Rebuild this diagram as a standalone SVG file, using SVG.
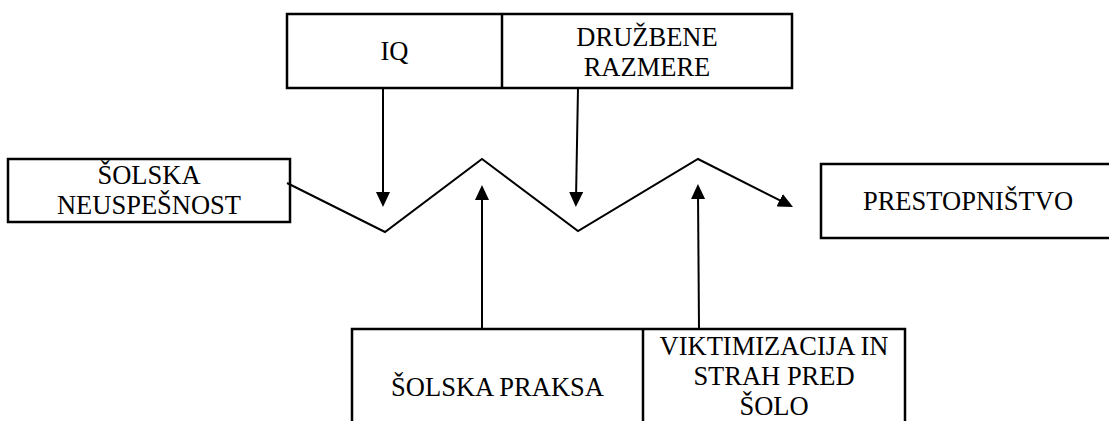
<svg xmlns="http://www.w3.org/2000/svg" width="1109" height="421" viewBox="0 0 1109 421">
<style>
.box{fill:#fff;stroke:#000;stroke-width:2.5}
.div{stroke:#000;stroke-width:2.5}
.t{font-family:"Liberation Serif","Times New Roman","DejaVu Serif",serif;font-size:26.5px;fill:#000;text-anchor:middle}
.con{fill:none;stroke:#000;stroke-width:2;stroke-linejoin:miter}
</style>
<defs>
<marker id="ah" viewBox="0 0 15 14" refX="7" refY="7" markerWidth="15" markerHeight="14" markerUnits="userSpaceOnUse" orient="auto">
<path d="M0,0 L15,7 L0,14 z" fill="#000"/>
</marker>
</defs>
<rect width="1109" height="421" fill="#fff"/>
<g id="top">
<rect class="box" x="287" y="14" width="505" height="74"/>
<line class="div" x1="502" y1="14" x2="502" y2="88"/>
<g id="iq"><text class="t" x="394.5" y="60">IQ</text></g>
<g id="druzbene"><text class="t" x="647" y="46">DRUŽBENE</text><text class="t" x="647" y="76">RAZMERE</text></g>
</g>
<g id="neuspesnost">
<rect class="box" x="8" y="159" width="282" height="63"/>
<text class="t" x="149" y="184">ŠOLSKA</text>
<text class="t" x="149" y="214">NEUSPEŠNOST</text>
</g>
<g id="prestopnistvo">
<rect class="box" x="821" y="164" width="300" height="74"/>
<text class="t" x="968" y="210">PRESTOPNIŠTVO</text>
</g>
<g id="bottom">
<rect class="box" x="352" y="329" width="553" height="110"/>
<line class="div" x1="643" y1="329" x2="643" y2="421"/>
<g id="praksa"><text class="t" x="497.5" y="396">ŠOLSKA PRAKSA</text></g>
<g id="viktimizacija"><text class="t" x="774" y="355">VIKTIMIZACIJA IN</text><text class="t" x="774" y="385">STRAH PRED</text><text class="t" x="774" y="415">ŠOLO</text></g>
</g>
<g id="connectors">
<polyline class="con" points="287,183 385,232 482,159 578,231 698,159 785.9,203.4" marker-end="url(#ah)"/>
<line class="con" x1="383" y1="88" x2="383" y2="199" marker-end="url(#ah)"/>
<line class="con" x1="578" y1="88" x2="576" y2="199" marker-end="url(#ah)"/>
<line class="con" x1="482" y1="329" x2="482" y2="193" marker-end="url(#ah)"/>
<line class="con" x1="699" y1="329" x2="698" y2="192" marker-end="url(#ah)"/>
</g>
</svg>
